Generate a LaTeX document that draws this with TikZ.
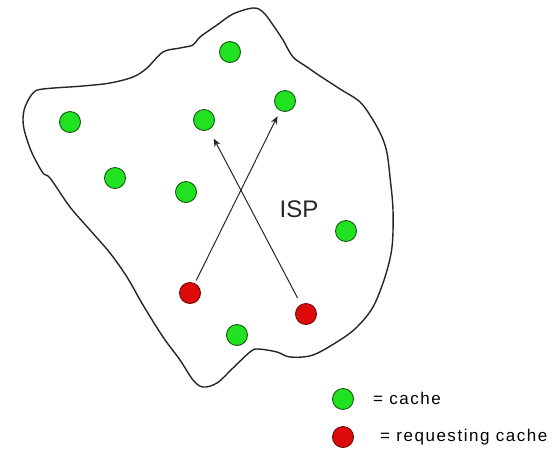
\documentclass[tikz,border=0pt]{standalone}
\usepackage{fontspec}
\setmainfont{Liberation Sans}
\usetikzlibrary{arrows.meta}
\definecolor{cachegreen}{RGB}{32,226,32}
\definecolor{cacheedge}{RGB}{20,90,20}
\definecolor{reqred}{RGB}{222,10,10}
\definecolor{reqedge}{RGB}{110,10,10}
\tikzset{
  cache/.style={circle, draw=cacheedge, fill=cachegreen, line width=0.9pt,
    minimum width=20pt, minimum height=21pt, inner sep=0pt},
  reqcache/.style={cache, draw=reqedge, fill=reqred},
  blob/.style={line width=1.4pt, black!85},
  link/.style={line width=1pt, black!85,
    -{Stealth[length=8pt,width=6.5pt]}},
  legendtext/.style={anchor=west, inner sep=0pt,
    font=\fontsize{17}{20}\selectfont\addfontfeature{LetterSpace=9}},
}
\begin{document}
\begin{tikzpicture}[x=1pt,y=-1pt]
  \useasboundingbox (0,0) rectangle (560,456);
  % ISP boundary
  \draw[blob] plot[smooth cycle, tension=0.55] coordinates {
    (23,120) (25,107) (33,93) (43,89) (83,86) (110,83) (133,77) (147,68)
    (163,52) (180,48) (193,45) (200,37) (217,25) (233,14) (253,8) (263,12)
    (273,25) (283,40) (293,57) (307,67) (320,76) (340,89) (360,102)
    (373,120) (382,137) (387,153) (390,177) (393,210) (392,247) (385,277)
    (373,307) (357,327) (340,340) (313,355) (290,357) (277,352) (258,349)
    (250,352) (233,368) (217,383) (203,387) (193,380) (180,360) (163,337)
    (143,305) (127,277) (110,253) (90,230) (70,207) (50,178) (43,173)
    (32,153) (25,133)};
  % caches inside the ISP
  \node[cache] (top)    at (230,52)  {};
  \node[cache] (left)   at (70,122)  {};
  \node[cache] (mid)    at (204,120) {};
  \node[cache] (upper)  at (285,101) {};
  \node[cache] (west)   at (115,178) {};
  \node[cache] (centre) at (186,192) {};
  \node[cache] (east)   at (346,231) {};
  \node[cache] (low)    at (237,335) {};
  \node[reqcache] (reqa) at (190,293) {};
  \node[reqcache] (reqb) at (306,314) {};
  \node[font=\fontsize{24}{28}\selectfont, text=black!85] (isp) at (299,209) {ISP};
  % requests
  \draw[link, shorten <=3pt, shorten >=6pt] (reqa) -- (upper);
  \draw[link, shorten <=7pt, shorten >=10pt] (reqb) -- (mid);
  % legend
  \node[cache] (keyc) at (343,399) {};
  \node[reqcache] (keyr) at (343,437) {};
  \node[legendtext] (keyctext) at (373,398) {= cache};
  \node[legendtext] (keyrtext) at (380,437) {= requesting cache};
\end{tikzpicture}
\end{document}
